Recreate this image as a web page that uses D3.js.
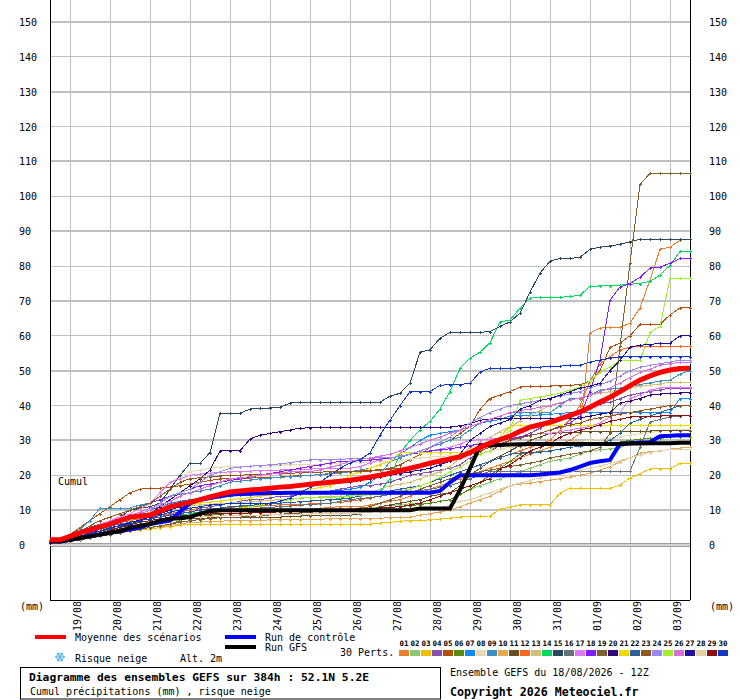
<!DOCTYPE html>
<html>
<head>
<meta charset="utf-8">
<title>GEFS ensembles - cumul</title>
<script src="https://cdn.jsdelivr.net/npm/d3@7"></script>
<style>
  body { margin: 0; background: #fff; }
  svg { display: block; font-family: "DejaVu Sans Mono", monospace; }
</style>
</head>
<body>
<svg id="chart" width="740" height="700"></svg>
<script>
// run starts 18/08 12Z, one value every 6h up to +384h (65 values)
const dayLabels = ["19/08","20/08","21/08","22/08","23/08","24/08","25/08","26/08",
                   "27/08","28/08","29/08","30/08","31/08","01/09","02/09","03/09"];
const yTicks = [0,10,20,30,40,50,60,70,80,90,100,110,120,130,140,150];
const pertLabels = ["01","02","03","04","05","06","07","08","09","10","11","12","13","14","15",
                    "16","17","18","19","20","21","22","23","24","25","26","27","28","29","30"];
const pertColors = ["#e88030","#88c870","#f0c000","#8850b0","#b05010","#588a10","#1088f8","#e8d8b0",
                    "#3c90c0","#e8a850","#685020","#f86820","#d0c078","#00d860","#284860","#687078",
                    "#e078f8","#8020f8","#806030","#300878","#f0d800","#2860a0","#905820","#9888f0",
                    "#a0f030","#d870d8","#2010a0","#e0d0a8","#901010","#1038c0"];

// cumulated precipitation (mm), grouped by day
const m01 = [0.5,0.8, 1.5,2.5,3.5,4.5, 5,5.5,6,6.5, 7,7.5,8,8.5, 9,9,9.3,9.5, 9.5,9.5,9.7,9.8, 10,10,10,10, 10.2,10.5,10.8,11, 11,11,11.5,12, 12.5,13,14,15, 16,17,18,19, 20,21,22,23, 24,25,26,27, 28,29,30,32, 60.8,62.2,62.4,62.5, 63.6,68,76,84.8, 85.4,87.4,87.7];
const m02 = [0.5,0.7, 1.2,2,2.8,3.5, 4,4.5,5,5.5, 6,6.5,7,7.5, 8,8.2,8.5,8.8, 9,9,9.2,9.3, 9.5,9.5,9.6,9.7, 9.8,9.9,10,10, 10,10.2,10.5,11, 11.3,11.6,11.8,12, 12,12.5,13,14.5, 16,17,18,19, 20,21,22,23, 24,24.5,25,26, 27,27.3,27.6,28, 29,29.5,30,30.5, 31,31,31];
const m03 = [0.4,0.6, 1,1.5,2,2.5, 3,3.5,4,4.3, 4.5,5,5.3,5.6, 6,6,6,6, 6,6,6,6, 6,6,6,6, 6,6,6,6, 6,6,6,6.3, 6.5,6.8,7,7.1, 7.2,7.4,7.7,8, 8.2,8.3,8.3,10.3, 10.8,11.5,11.5,11.5, 11.5,14.9,16.3,16.3, 16.3,16.3,16.3,17.2, 19.2,20.5,21.8,21.8, 21.8,23.5,23.5];
const m04 = [1,1.3, 2,3,4,5, 5.5,6,6.5,7, 7.5,8,9,9.5, 10,10.5,11,11.5, 12,12.5,13,13, 13.5,14,14,14.5, 15,15,15.5,16, 16.5,17,17,17.5, 18,19,20,20.5, 21,21.5,22,23, 25,26,27,28.5, 30,31,32,33.5, 35,36,37,38.5, 40,40.5,41,42, 43,43.5,44,44.5, 45,45,45];
const m05 = [1.2,1.5, 3,5,7,9, 11,13,15,16, 16.3,16.3,16.5,17, 17.5,18,18.5,19, 19,19,19.2,19.4, 19.5,19.5,19.7,20, 20,20.2,20.5,20.8, 21,21,21.2,21.5, 22,23,24.5,26, 28,29,30,32, 34,39,42,43, 44,45.3,45.5,45.5, 45.6,45.7,45.8,46, 47,50,56.7,57.9, 60,63.3,63.3,63.3, 66,68,68];
const m06 = [0.3,0.5, 1,1.5,2,2.5, 3,3.5,4,4.5, 5,5.5,6,7, 8,8.2,8.5,8.8, 9,9,9.2,9.3, 9.4,9.5,9.5,9.6, 9.7,9.8,9.9,10, 10,10.2,10.4,10.6, 10.8,11,11.3,11.6, 12,12.5,13,14.5, 16,18,20,22, 24,26,26.5,26.8, 27,27.5,28,28.3, 28.6,28.8,29,29.5, 30,30.3,30.6,30.8, 31,31,31];
const m07 = [1,1.3, 2.5,3.5,4.5,6, 7,7.5,8,9, 10,11,12,12.5, 13,13.3,13.6,13.8, 14,14.2,14.4,14.6, 14.8,15,15,15, 15,15.2,15.4,15.6, 16,16.5,18,20, 24,26,28,30, 31.5,32,32.5,33, 34,35,35.5,36, 37,37,37.2,37.3, 37.5,37.7,38,38, 38,38,38,38, 38,38,38,38, 38,42,42];
const m08 = [0.5,0.8, 1.5,3,4.5,6, 7,8.5,10,11, 12,15,18,19.5, 21,21.5,22,22.3, 22.5,22.5,22.6,22.7, 22.8,22.9,23,23, 23,23.2,23.3,23.5, 23.5,23.6,23.8,23.9, 24,24.3,24.6,25, 25.2,25.4,25.6,25.8, 26,26.5,27,27.5, 28,28.2,28.5,28.7, 29,29.2,29.5,29.7, 30,30.3,30.6,31, 31.5,32,32.3,32.6, 33,33,33];
const m09 = [1,1.5, 3,4.5,7,10.6, 10.6,10.6,10.6,11.5, 12,13,14,14.5, 15,15.5,16,17, 18,18.3,18.6,19, 19.2,19.4,19.6,19.8, 20,20.2,20.4,20.6, 21,21.5,22,23, 24,25,26,27, 28,29,30,31, 33,35,36,37, 38,38,38,38, 38,40,42,42, 43,44.4,44.7,45, 45.5,46,46.5,47, 47.3,49,50];
const m10 = [0.3,0.5, 1,1.5,2,2.5, 3,3.5,4,4.5, 5,5.3,5.6,6, 6.5,6.6,6.7,6.8, 7,7,7,7.1, 7.2,7.2,7.3,7.3, 7.4,7.4,7.5,7.5, 7.5,7.5,7.6,7.7, 7.8,7.9,8,8.5, 9,9.5,10,11, 12,13,14,15.5, 17,17.5,17.8,18.2, 18.6,19,19.5,20, 20.6,21.5,22.5,23.8, 25,26.4,26.8,27, 27.5,27.8,28];
const m11 = [0.5,0.8, 1.5,2.5,3.5,4, 4.5,5,5.5,6, 6.5,7,7.2,7.4, 7.5,7.6,7.8,8, 8,8,8,8, 8,8,8.2,8.3, 8.4,8.5,8.5,8.5, 8.5,9,10,11, 11.5,12,12.5,13, 14,14.5,15,17, 20,22,24,25.5, 27,28.5,30,31, 32,32.2,32.3,32.4, 32.5,32.5,32.5,32.6, 32.6,32.6,32.7,32.7, 32.7,32.7,32.7];
const m12 = [0.8,1, 2,3,4,5, 6,6.5,7,7.5, 8,8.5,9,9.5, 10,10.2,10.4,10.6, 10.8,11,11,11.2, 11.4,11.5,11.5,11.6, 11.8,12,12,12.2, 12.5,13,13.5,14, 14.5,15,16,17, 18,19,20,21, 22,23,24,25, 26,27,28,29, 30,33,36,40, 47,52,54,56, 56.7,57,57,57, 57,57,57];
const m13 = [0.6,0.9, 1.5,2.5,3.5,4.5, 5.5,6.5,7.5,8.5, 9.5,10,10.5,11, 11.3,11.5,11.7,11.9, 12,12.2,12.4,12.6, 12.8,13,13.2,13.4, 13.6,13.8,14,14, 14,14.5,15,16, 17,17.5,18,19, 20,21,22.5,25, 28,29.5,31,32.5, 34,35.5,37,38.5, 40,40.8,41.5,42.2, 43,43.5,44,44.5, 45,45.5,45.8,46.2, 46.7,46.7,46.7];
const m14 = [0.8,1, 1.5,2.5,3.5,4.5, 5,5.5,6,6.5, 7,7.5,8,8.5, 9,9.5,10,10.5, 11,11.2,11.4,11.6, 11.8,12,12.2,12.4, 12.6,12.8,13,13.3, 14.5,14.8,15,15.2, 19,26.4,30,33, 35.5,39,44,50.7, 53.6,55.3,58,64, 64.5,68,70.8,71, 71,71,71.3,71.6, 74.2,74.3,74.4,74.5, 74.8,75,75.6,77.4, 80.2,84.2,84.2];
const m15 = [1.5,1.8, 3,4,5,6, 7,8,10,10.5, 11,12,16,20, 23.5,23.5,26.5,37.8, 37.8,37.8,39,39.2, 39.3,39.5,40.7,41, 41,41,41,41, 41,41,41,41, 42.7,43.5,46.4,55.3, 56,59.3,61,61, 61,61,61.2,62.7, 64,66.5,72.5,78, 81.4,82.2,82.2,82.5, 84.8,85.4,85.8,86.2, 87,87.7,87.7,87.7, 87.7,87.7,87.7];
const m16 = [0.5,0.7, 1.2,2,2.8,3.5, 4,4.5,5,5.5, 6,6.5,7,7.5, 8,8.5,9,9.5, 10,10.2,10.4,10.6, 10.8,11,11.2,11.4, 11.6,11.8,12,12.5, 13,13.3,13.6,14, 14.5,15,15.3,15.6, 16,16.5,17,18, 19,20,21.2,21.2, 21.2,21.2,21.2,21.2, 21.2,21.2,21.2,21.2, 21.2,21.2,21.2,21.2, 21.2,28,35.3,36, 36.7,37,37];
const m17 = [0.8,1, 2,3,4.5,6, 7,8,9,10.5, 12,15,18,19, 20,20.3,20.6,20.8, 21,21,21.2,21.3, 21.4,21.5,21.6,21.7, 21.8,21.9,22,22, 22,22.5,23.5,24.5, 25,25.5,26,26.5, 27,27.5,28,29, 30,30.2,30.4,30.5, 30.5,31,31.5,32, 32,32.5,33,33.5, 34,35,36.7,38, 42,43,44.4,45, 45.3,45.3,45.3];
const m18 = [1,1.3, 2.5,4,5.5,7, 8,9,10,11, 12,13,14,15, 16,17,17.5,18, 18.5,19,19.5,20, 20.5,21,21.5,22, 22.5,23,23.5,24, 24,24.2,24.4,24.6, 25,25.5,26,26.5, 27,27.3,27.6,28, 28.5,29,29.5,30, 30.5,31,31.5,32, 33,34,35,37, 44,53,70.2,74, 75,76.8,79.4,79.7, 80.8,82.2,82.2];
const m19 = [0.5,0.7, 1,1.5,2,2.5, 3,3.5,4,4.5, 5,5.5,6,6.5, 7,7.3,7.6,7.8, 8,8,8.2,8.4, 8.6,8.8,9,9.2, 9.4,9.6,9.8,10, 10,10.5,11,12, 13,14,15,16, 17,18,19,20, 20.5,21,21.5,22, 22.5,23,23.5,24, 25,25.5,26,26.5, 27,28,32,57, 80.8,103.4,106.6,106.6, 106.6,106.6,106.6];
const m20 = [1,1.2, 2,3,4,5, 6,7,8,8.5, 9,11,13,15, 17,19,21.5,27, 27,27,30.4,31.5, 32,32.5,33,33.5, 33.6,33.8,33.8,33.8, 33.8,33.8,33.8,33.8, 33.8,33.8,33.8,33.8, 33.8,33.8,33.8,34.2, 34.8,35.8,36,36.4, 36.4,36.4,36.4,36.4, 36.4,36.4,36.4,36.4, 37,37.5,38,40.7, 41.3,42,43,43.3, 43.5,43.6,43.6];
const m21 = [0.5,0.8, 1.5,2.5,3.5,4.5, 5.5,6.5,7.5,8.5, 9.5,10,10.5,11, 11.5,12,12.3,12.6, 13,13.3,13.6,14, 14.3,14.6,15,15.5, 16,16.5,17,18, 20,21,22,23, 24,26.4,26.4,26.4, 26.4,26.4,26.4,26.4, 26.4,27,28,31, 34,34.4,34.4,34.4, 34.4,34.4,34.4,34.4, 34.4,34.4,34.4,34.4, 34.4,34.4,34.4,34.4, 34.4,34.4,34.4];
const m22 = [0.8,1, 1.5,2.5,3.5,4.5, 5.5,6,6.5,7, 7.5,8,8.5,9, 9.5,10,10.3,10.6, 11,11.2,11.4,11.6, 11.8,12,12.2,12.4, 12.6,12.8,13,13.2, 13.5,14,14.5,15, 15.5,16,16.5,17, 18,19,20,21, 22,23,24,25, 26,26.4,26.4,26.6, 27,27.5,28,28.3, 28.6,29,30,32, 35,36,37,38, 39,40,40];
const m23 = [1,1.3, 2.5,4,5.5,7, 8,9,10,11, 12,14,16,18, 19,19.3,19.6,19.8, 20,20,20.2,20.3, 20.4,20.5,20.6,20.7, 20.8,20.9,21,21, 21,21.2,21.4,21.6, 21.8,22,22.3,22.6, 23,23.5,24,25, 26,27,28,29, 30,30.7,31.4,32, 33,33.7,34.4,35, 36,36.5,37,37.5, 38,38.5,39,39.5, 40,40,40];
const m24 = [0.8,1, 2,3,4,5, 6,7,8,9, 10,12,14,15, 16,18,20,21, 22,22.3,22.6,22.8, 23,23.3,23.6,24, 24.4,24.4,24.5,24.6, 24.7,24.8,24.9,25, 25,25.5,26,27, 28,29.5,31,33, 35,36.5,38,39, 40,40.5,41,41.5, 42,42.7,43.4,44, 45,46,47,48.5, 50,51,51.5,52, 52.5,53,53];
const m25 = [0.5,0.7, 1.2,2,2.8,3.5, 4.2,5,5.5,6, 6.5,7,7.5,8, 8.5,9,9.3,9.6, 10,10.5,11,11.5, 12,12.5,13,13.5, 13.5,13.6,13.7,13.8, 14,14.2,14.4,14.6, 15,15.5,16,17, 18,19.5,21,22.5, 24,26,27,30, 33,41.5,42,42.5, 43,43.5,44.4,45.3, 47,49.6,51,53, 53,53,61,62.7, 76.5,76.5,76.5];
const m26 = [0.6,0.9, 1.8,3,4.2,5.5, 6.5,7.5,8.5,9.5, 10.5,11.5,12.5,14, 15,16,17,18, 19,19.3,19.6,20, 20.3,20.6,21,21, 21,21.5,22.3,23, 24,24.5,25,25.5, 26,27,28,29, 30,31,32,33, 34,35,36,37, 38,38.5,39,39.5, 40,40.8,41.5,42.2, 43,44,45,46.5, 48,49.5,50.5,51.5, 52,52.4,52.4];
const m27 = [0.8,1, 1.6,2.4,3.2,4, 4.8,5.6,6.4,7.2, 8,9,10,11, 12,12.8,13.5,14.2, 15,15.3,15.6,16, 16.3,16.6,17,17.3, 17.6,17.8,18,18, 18,18.5,19,19.5, 20,20.5,21,21.5, 22,23,24,26, 30,32,34,35, 36,39,40,41.5, 42,43,44,45, 45.5,46.4,50,53, 56.7,57.3,57.5,57.9, 57.9,60,60];
const m28 = [0.4,0.6, 1,1.6,2.2,2.8, 3.4,4,4.6,5.2, 5.8,6.4,7,7.5, 8,8.1,8.2,8.3, 8.5,8.5,8.6,8.6, 8.7,8.7,8.8,8.8, 8.9,8.9,9,9, 9,9.2,9.4,9.6, 9.8,10,10,10, 10,10.5,11.5,12.5, 13,14,15,16, 17,17.8,18.5,19.3, 20,20.5,21,21.5, 22,22.7,23.4,24.2, 25,25.8,26.5,27, 27.5,27.5,27.5];
const m29 = [0.6,0.8, 1.2,2,2.8,3.5, 4.2,5,5.8,6.5, 7,7.5,8,8.3, 8.5,8.7,8.9,9, 9,9.1,9.2,9.3, 9.4,9.5,9.6,9.7, 9.8,9.9,10,10, 10,10.2,10.4,10.6, 10.8,11,11.5,12, 13,14,15,16, 17,18,19,21.8, 23,25,27,28, 29,31,32,33, 33.5,34.5,35.5,36, 36.7,36.8,36.9,37, 37,37,37];
const m30 = [0.8,1, 1.5,2.5,3.5,4, 5,5.5,6,7, 7.5,8.5,9.5,10, 10.5,11,11.5,11.5, 12,12,12,12, 12,12.5,13.5,15, 16.5,18,20,22, 23.5,24.5,26.4,31.5, 35.8,40,44,44, 44,45.8,46,46, 46.4,49.6,50.7,50.7, 50.7,50.8,51,51, 51.2,51.3,51.5,51.5, 52.5,53,53.6,54, 54,54,54,54, 54,54,54];

const controlRun = [1,1, 1.5,2,2.5,3, 3.5,4,4.5,5, 6,6.5,7,9.5, 12,13,13.5,14, 14.5,14.6,14.7,14.8, 14.9,14.9,15,15, 15,15,15,15, 15,15,15,15, 15,15,15,15, 15,15.5,18,20, 20,20,20,20, 20,20,20,20.2, 20.5,20.8,21.5,22.5, 23.5,24,24.4,29, 29.2,29.4,29.5,31.2, 31.3,31.5,31.5];
const gfsRun = [1,1, 1.5,2,2.5,3, 3.5,4,5,5.5, 6,7,7.5,7.7, 8,9,9.7,10, 10,10,10,10, 10,10,10,10, 10,10,10,10, 10,10,10,10, 10,10,10,10.5, 10.5,10.5,10.5,15.8, 22,28.5,28.6,28.7, 28.8,28.9,29,29, 29,29,29,29, 29,29,29,29, 29.1,29.1,29.2,29.2, 29.2,29.3,29.3];
const meanRun = [1.5,1.5, 2.5,3.5,4.3,5.2, 6,7,8,8.3, 8.6,9.8,11,11.7, 12.3,13,13.8,14.5, 15.2,15.5,15.8,16, 16.3,16.6,16.8,17.1, 17.4,17.7,18,18.3, 18.6,19,19.5,20, 20.6,21.3,22,22.7, 23.5,24.1,24.7,25.3, 26.5,28,29.2,30.2, 31.2,32.6,33.8,34.5, 35.2,36.2,37.2,38.2, 39.5,41,42.4,44, 45.7,47.3,48.5,49.5, 50.2,50.6,50.7];

const members = [m01,m02,m03,m04,m05,m06,m07,m08,m09,m10,m11,m12,m13,m14,m15,
                 m16,m17,m18,m19,m20,m21,m22,m23,m24,m25,m26,m27,m28,m29,m30];
[...members, controlRun, gfsRun, meanRun].forEach((s, k) => {
  if (s.length !== 65) throw new Error("series " + k + " has " + s.length + " values");
});

const svg = d3.select("#chart");
const plotLeft = 50, plotRight = 690, plotBottom = 600;

const x = d3.scaleLinear().domain([0, 384]).range([plotLeft, plotRight]); // hours since 18/08 12Z
const y = d3.scaleLinear().domain([0, 150]).range([545, 22]);

// grid
const grid = svg.append("g").attr("shape-rendering", "crispEdges");
grid.selectAll(".vg").data(dayLabels).join("line")
  .attr("x1", (d, i) => x(12 + 24 * i)).attr("x2", (d, i) => x(12 + 24 * i))
  .attr("y1", 0).attr("y2", plotBottom)
  .attr("stroke", "#c0c0c0");
grid.selectAll(".hg").data(yTicks.filter(v => v > 0)).join("line")
  .attr("x1", plotLeft).attr("x2", plotRight)
  .attr("y1", d => y(d)).attr("y2", d => y(d))
  .attr("stroke", "#c0c0c0")
  .attr("stroke-width", d => (d / 10) % 2 === 1 ? 2 : 1);
// zero line (double)
grid.append("rect").attr("x", plotLeft).attr("y", y(0) - 2).attr("width", plotRight - plotLeft).attr("height", 4)
  .attr("fill", "#d4d4d4");
grid.append("line").attr("x1", plotLeft).attr("x2", plotRight).attr("y1", y(0) - 2).attr("y2", y(0) - 2).attr("stroke", "#a0a0a0");
grid.append("line").attr("x1", plotLeft).attr("x2", plotRight).attr("y1", y(0) + 1).attr("y2", y(0) + 1).attr("stroke", "#a0a0a0");

// frame
const frame = svg.append("g").attr("shape-rendering", "crispEdges").attr("stroke", "#000");
frame.append("line").attr("x1", plotLeft).attr("x2", plotLeft).attr("y1", 0).attr("y2", plotBottom);
frame.append("line").attr("x1", plotRight).attr("x2", plotRight).attr("y1", 0).attr("y2", plotBottom);
frame.append("line").attr("x1", plotLeft).attr("x2", plotRight).attr("y1", plotBottom).attr("y2", plotBottom);

// series
const line = d3.line().x((d, i) => x(i * 6)).y(d => y(d));
const marks = s => s.map((v, i) => {
  const px = Math.round(x(i * 6)) + 0.5, py = Math.round(y(v)) + 0.5;
  return `M${px - 1.5},${py}h3M${px},${py - 1.5}v3`;
}).join("");

const gMembers = svg.append("g").attr("fill", "none").attr("shape-rendering", "crispEdges");
members.forEach((s, k) => {
  gMembers.append("path").attr("d", line(s)).attr("stroke", pertColors[k]).attr("stroke-width", 1);
  gMembers.append("path").attr("d", marks(s)).attr("stroke", pertColors[k]).attr("stroke-width", 1);
});

svg.append("path").attr("d", line(controlRun)).attr("fill", "none").attr("stroke", "#0000ff").attr("stroke-width", 4);
svg.append("path").attr("d", line(gfsRun)).attr("fill", "none").attr("stroke", "#000").attr("stroke-width", 4);
svg.append("path").attr("d", line(meanRun)).attr("fill", "none").attr("stroke", "#ff0000").attr("stroke-width", 5);

// axis labels
const txt = svg.append("g").attr("font-size", 10).attr("fill", "#000");
yTicks.forEach(v => {
  txt.append("text").attr("x", 19).attr("y", y(v) + 4).text(v);
  txt.append("text").attr("x", 709).attr("y", y(v) + 4).text(v);
});
dayLabels.forEach((d, i) => {
  txt.append("text")
    .attr("transform", `translate(${x(12 + 24 * i) + 11},631) rotate(-90)`)
    .text(d);
});
txt.append("text").attr("x", 20).attr("y", 610).text("(mm)");
txt.append("text").attr("x", 710).attr("y", 610).text("(mm)");
txt.append("text").attr("x", 58).attr("y", 485).text("Cumul");

// legend
const lg = svg.append("g").attr("font-size", 10);
lg.append("line").attr("x1", 35).attr("x2", 66).attr("y1", 637).attr("y2", 637).attr("stroke", "#ff0000").attr("stroke-width", 4);
lg.append("text").attr("x", 75).attr("y", 641).text("Moyenne des scénarios");
lg.append("line").attr("x1", 225).attr("x2", 256).attr("y1", 637).attr("y2", 637).attr("stroke", "#0000ff").attr("stroke-width", 4);
lg.append("text").attr("x", 265).attr("y", 641).text("Run de contrôle");
lg.append("line").attr("x1", 225).attr("x2", 256).attr("y1", 647).attr("y2", 647).attr("stroke", "#000").attr("stroke-width", 4);
lg.append("text").attr("x", 265).attr("y", 651).text("Run GFS");

// snowflake
const flake = lg.append("g").attr("transform", "translate(60,657)").attr("stroke", "#60b8e8").attr("stroke-width", 1.2);
[0, 60, 120].forEach(a => {
  flake.append("line").attr("x1", -5).attr("x2", 5).attr("y1", 0).attr("y2", 0).attr("transform", `rotate(${a})`);
  flake.append("path").attr("d", "M3,-1.5L4,0L3,1.5M-3,-1.5L-4,0L-3,1.5").attr("fill", "none").attr("transform", `rotate(${a})`);
});
lg.append("text").attr("x", 75).attr("y", 662).text("Risque neige");
lg.append("text").attr("x", 180).attr("y", 662).text("Alt. 2m");
lg.append("text").attr("x", 340).attr("y", 656).text("30 Perts.");

const sw = lg.append("g");
sw.selectAll("rect").data(pertColors).join("rect")
  .attr("x", (d, i) => 399 + 11 * i).attr("y", 650).attr("width", 10).attr("height", 6)
  .attr("fill", d => d);
sw.selectAll("text").data(pertLabels).join("text")
  .attr("x", (d, i) => 404 + 11 * i).attr("y", 646)
  .attr("text-anchor", "middle").attr("font-size", 7.5).attr("font-weight", "bold")
  .text(d => d);

// title box
svg.append("rect").attr("x", 20.5).attr("y", 667.5).attr("width", 420).attr("height", 31.5)
  .attr("fill", "none").attr("stroke", "#000");
svg.append("text").attr("x", 29).attr("y", 681).attr("font-size", 11.3).attr("font-weight", "bold")
  .text("Diagramme des ensembles GEFS sur 384h : 52.1N 5.2E");
svg.append("text").attr("x", 30).attr("y", 695).attr("font-size", 10)
  .text("Cumul précipitations (mm) , risque neige");
svg.append("text").attr("x", 450).attr("y", 676).attr("font-size", 10)
  .text("Ensemble GEFS du 18/08/2026 - 12Z");
svg.append("text").attr("x", 450).attr("y", 696).attr("font-size", 11.6).attr("font-weight", "bold")
  .text("Copyright 2026 Meteociel.fr");
</script>
</body>
</html>
